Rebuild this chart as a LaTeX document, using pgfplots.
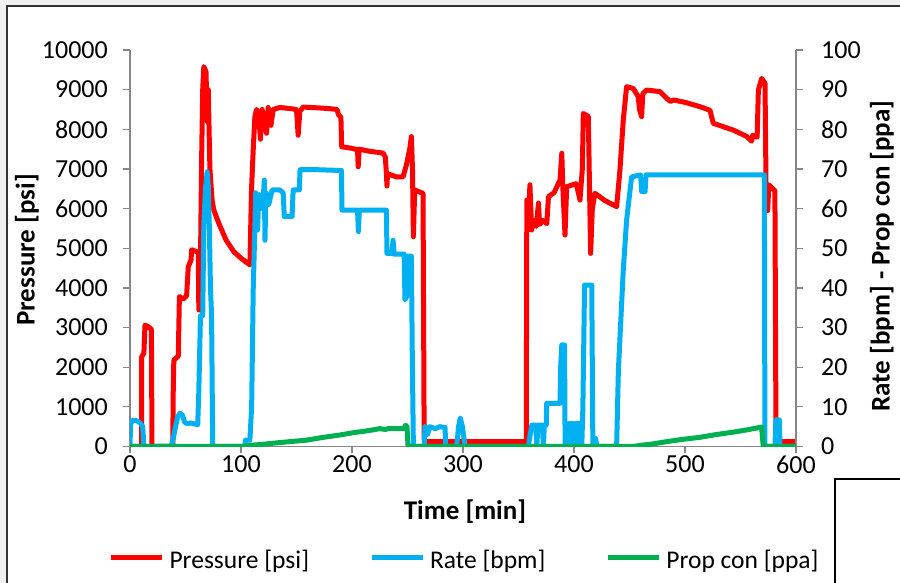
\documentclass[border=0pt]{standalone}
\usepackage{pgfplots}
\pgfplotsset{compat=1.18}
\usepackage{fontspec}
\setmainfont{Carlito}
\definecolor{xred}{RGB}{255,0,0}
\definecolor{xblue}{RGB}{0,176,240}
\definecolor{xgreen}{RGB}{0,176,80}
\definecolor{axgray}{RGB}{134,134,134}
\begin{document}
\begin{tikzpicture}[x=1pt,y=1pt]
\useasboundingbox (0pt,0pt) rectangle (900pt,583pt);
\clip (0pt,0pt) rectangle (900pt,583pt);
\fill[black!6] (0pt,0pt) rectangle (900pt,583pt);
\fill[white] (7pt,-5pt) rectangle (905pt,577pt);
\draw[line width=1.5pt, black!80] (7pt,-5pt) -- (7pt,577pt) -- (905pt,577pt);
\fill[white] (835pt,-5pt) rectangle (905pt,104pt);
\draw[line width=2.5pt, black] (835pt,-5pt) -- (835pt,104pt) -- (905pt,104pt);
\pgfplotsset{
  common/.style={
    at={(130pt,136.5pt)}, anchor=south west, scale only axis,
    width=666pt, height=396.5pt,
    xmin=0, xmax=600,
    scaled y ticks=false, scaled x ticks=false,
    tick align=outside, major tick length=7pt,
    axis line style={-, draw=axgray, line width=1.3pt},
    tick style={draw=axgray, line width=1.3pt},
    tick label style={font=\fontsize{26}{30}\selectfont, text=black},
    /pgf/number format/assume math mode=true,
    /pgf/number format/1000 sep={},
    label style={font=\fontsize{27}{32}\selectfont\bfseries},
    line join=round,
  },
}
\begin{axis}[common,
  ymin=0, ymax=10000, ytick={0,1000,...,10000},
  xtick={0,100,...,600},
  axis x line*=bottom, axis y line*=left,
  yticklabel style={anchor=east, inner sep=0pt, xshift=-15pt},
  xticklabel style={anchor=north, inner sep=0pt, yshift=-2pt},
  xlabel={Time [min]}, ylabel={Pressure [psi]},
  xlabel style={at={(axis description cs:0.503,-0.1652)}, anchor=center},
  ylabel style={at={(axis description cs:-0.1547,0.4956)}, anchor=center},
]
\addplot[xred, line width=5pt] coordinates {
(0,0) (10.5,0) (10.5,2265) (12.5,2350) (13.5,3060) (16.5,3020) (19.3,2950) (19.8,0)
(38.5,0) (39,1500) (39.5,2180) (43.5,2280) (44.5,3780) (48,3720) (51,3800) (52.5,4535)
(55,4700) (55.5,4960) (61.5,4900) (62,3440) (63,3450) (64.5,7200) (65.5,9000) (66.5,9580)
(68.5,9450) (69.5,8200) (70.5,9000) (72,7000) (74,6200) (75.5,5965) (80,5630) (86.5,5210)
(93.5,4915) (100,4750) (108,4580) (109.5,6500) (111,7480) (112.5,8320) (114,8500) (116,8350)
(117.5,7750) (119,8500) (121,8200) (123,7900) (124.5,8550) (127,8100) (129,8500) (135,8550)
(145,8520) (150,8500) (151.5,7850) (153,8450) (156,8560) (170,8540) (180,8520) (186.5,8500)
(188,8360) (190,8300) (190.7,7560) (200,7520) (205,7480) (205.6,7055) (206.5,7500) (215,7450)
(228,7400) (230,7300) (231,6890) (231.5,6570) (232,6880) (240,6800) (246,6800) (249,7100)
(252,7500) (253.5,7815) (254.5,7000) (255.3,5290) (256.5,6470) (264,6385) (265,200) (266,120)
(357,120) (357.5,6215) (359,5800) (360.3,6600) (361.8,5460) (364,5700) (366,5550) (368,6140)
(369,5600) (372,5700) (375.5,5620) (377,6300) (382,6400) (387.4,6720) (389,7395) (390,6500)
(391.9,5335) (393.4,6550) (402,6630) (405.4,6215) (407.5,7000) (408.4,8400) (412.9,8320) (414,6500)
(415,4870) (416.5,6000) (418.9,6385) (428,6200) (438.4,6050) (441.4,6975) (444.4,8235) (447.4,9075)
(453.4,9030) (457.9,8820) (459,8500) (460.9,8320) (462,8900) (465.5,8990) (477.5,8950) (483.5,8780)
(487,8700) (489.5,8740) (500,8680) (513.5,8570) (522.5,8480) (525.5,8150) (543.5,7980) (555.6,7820)
(560,7700) (561,7850) (565,7800) (566.1,8990) (569.1,9285) (572.1,9160) (573,6600) (574.5,5950)
(575.5,6600) (581,6450) (582,120) (600,120)
};
\end{axis}
\begin{axis}[common,
  ymin=0, ymax=100, ytick={0,10,...,100},
  axis y line*=right, axis x line=none,
  yticklabel style={anchor=west, inner sep=0pt, xshift=18pt},
  ylabel={Rate [bpm] - Prop con [ppa]},
  ylabel style={at={(axis description cs:1.1291,0.4805)}, anchor=center},
  legend columns=3,
  legend cell align=left,
  legend style={at={(axis description cs:0.5008,-0.2863)}, anchor=center,
    draw=none, fill=none, inner sep=0pt, outer sep=0pt,
    font=\fontsize{25.5}{30}\selectfont,
    nodes={inner sep=0pt},
    /tikz/column sep=5pt,
    /tikz/every even column/.append style={column sep=60pt}},
  legend image code/.code={\draw[#1, line width=5pt] (0pt,0.25em) -- (51pt,0.25em);},
]
\addlegendimage{xred, line width=5pt}
\addlegendentry{Pressure [psi]}
\addplot[xblue, line width=5pt] coordinates {
(0,0) (0.5,5.5) (2,6.6) (6,6.5) (9,6.0) (11.5,5) (12.5,0) (37,0) (39,2) (41,5) (43,7.5) (45,8.4)
(47.5,7.8) (49,6.2) (51,5.8) (55,5.9) (61,5.5) (62,14) (63.5,33) (65.5,33) (66.5,56) (68,65)
(69.5,69.3) (70.5,66) (71.5,55) (72.5,40) (73.5,33) (74.5,0) (103.5,0) (104,1.6) (108,1.6)
(109.6,10) (111,39.5) (112.6,56.3) (113.2,64) (114,60) (115,54.6) (116,63.5) (118,62) (119.5,60)
(121,67.2) (121.6,52) (122.5,64) (125,61) (128,64.7) (135,64.7) (138,64) (139,58) (146,58)
(147,64.7) (152.5,64.7) (153.2,69.8) (170,69.8) (190.5,69.6) (191,59.6) (205,59.6) (205.8,54.2)
(206.6,59.6) (231,59.6) (231.5,48.7) (236,48.7) (237,52) (238,48.5) (247,48.5) (247.7,37)
(249.5,38) (250,48) (253.5,48) (254.3,23.5) (255.3,0) (265,0) (265.8,5) (268,3) (270,5) (275,4.5)
(279,5) (283.8,4.8) (284.5,0) (294.3,0) (296,5) (297.5,7.2) (299.5,5) (301.8,0) (359,0) (360.5,3)
(362,5.4) (365.5,5.4) (366.5,0) (367.5,5.4) (371.5,5.4) (372.4,0) (373.3,5.4) (375,5.4) (375.4,10.9)
(387.4,10.9) (388,20) (389,25.6) (391.5,25.6) (392,0) (395,0) (395.5,5.8) (399,5.8) (399.5,0)
(401,0) (401.5,5.8) (405,5.8) (405.5,0) (407,0) (408,10) (409,30) (409.5,40.7) (416,40.7) (417,0)
(419,0) (419.5,2) (420.5,0) (438.4,0) (440,19.3) (444.4,44.5) (447.4,57.1) (451.9,68) (460,68.5)
(461,64.3) (464,64.3) (465,68.5) (571.5,68.5) (572,0) (581,0) (582,6.7) (585,6.7) (585.6,0) (600,0)
};
\addlegendentry{Rate [bpm]}
\addplot[xgreen, line width=5pt] coordinates {
(0,0) (100,0) (108,0.3) (118,0.5) (128,0.8) (143,1.2) (159,1.6) (174,2.3) (189,2.9) (204,3.6)
(210,3.8) (219,4.2) (225,4.5) (230,4.3) (234,4.6) (240,4.5) (247.5,4.6) (248,5.3) (249.5,5.2)
(250.5,0) (453,0) (460,0.3) (470,0.6) (483,1.2) (498,1.8) (513,2.3) (528,3.0) (543,3.6) (558,4.3)
(569,4.9) (570.5,0) (600,0)
};
\addlegendentry{Prop con [ppa]}
\end{axis}
\end{tikzpicture}
\end{document}
